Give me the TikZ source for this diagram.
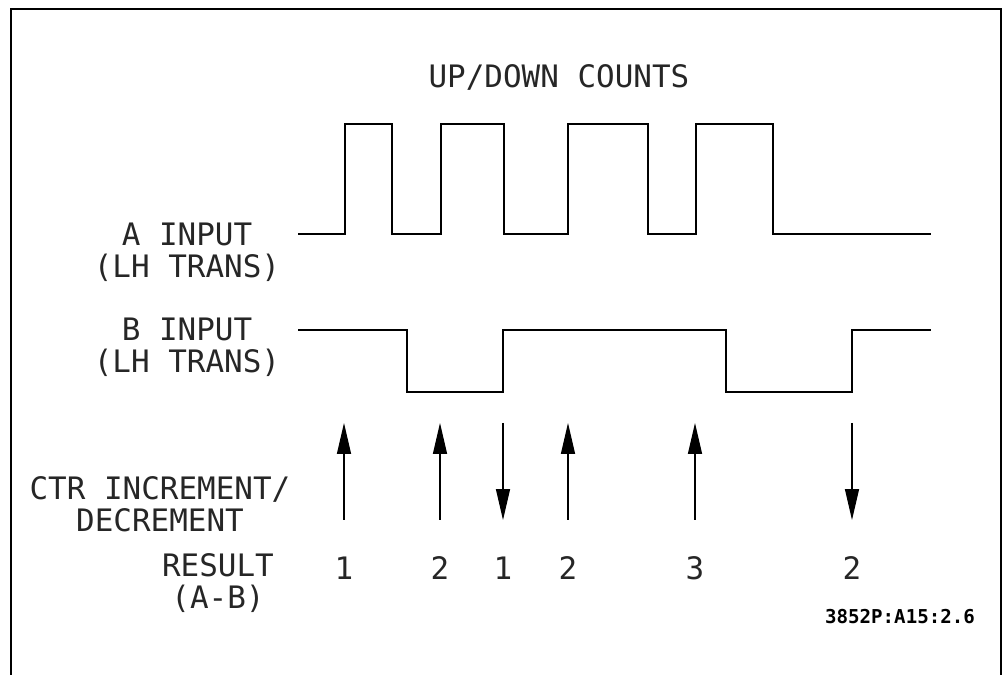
\documentclass[tikz,border=0pt]{standalone}
\usepackage{fontspec}
\usepackage{tikz}
\usetikzlibrary{arrows.meta,positioning}
\newfontfamily\plotfont{DejaVu Sans Mono}

\begin{document}
\begin{tikzpicture}[x=0.025cm,y=-0.025cm,
        lbl/.style={font={\plotfont\fontsize{22}{22.5}\selectfont},align=center,inner sep=0pt,text=black!85},
        wave/.style={line width=0.8pt},
        cnt/.style={-{Triangle[length=22pt,width=10pt]},line width=0.8pt}]
        \useasboundingbox (0,0) rectangle (1002,675);

        % Frame (open at the bottom)
        \draw[line width=1.3pt] (11,675) -- (11,9) -- (1001,9) -- (1001,675);

        % Title
        \node[lbl] (title) at (559,77) {UP/DOWN COUNTS};

        % Signal labels
        \node[lbl] (ain) at (187,252) {A INPUT\\(LH TRANS)};
        \node[lbl] (bin) at (187,347) {B INPUT\\(LH TRANS)};
        \node[lbl] (ctr) at (160,504) {CTR INCREMENT/\\DECREMENT};
        \node[lbl] (res) at (218,583) {RESULT\\(A-B)};

        % A input waveform
        \draw[wave] (298,234) -- (345,234) |- (392,124) |- (441,234) |- (504,124)
            |- (568,234) |- (648,124) |- (696,234) |- (773,124) |- (931,234);

        % B input waveform
        \draw[wave] (298,330) -- (407,330) |- (503,392) |- (726,330) |- (852,392)
            |- (931,330);

        % Counter steps (from -> to) and results
        \foreach \x/\n/\ya/\yb [count=\i] in {344/1/520/423,440/2/520/423,503/1/423/520,
                568/2/520/423,695/3/520/423,852/2/423/520} {
            \node[lbl] (r\i) at (\x,568) {\n};
            \coordinate (s\i) at (\x,\ya);
            \coordinate (e\i) at (\x,\yb);
            \draw[cnt] (s\i) -- (e\i);
        }

        % Figure code
        \node[font={\plotfont\bfseries\fontsize{13.6}{15}\selectfont},inner sep=0pt] (code) at (900,617) {3852P:A15:2.6};
\end{tikzpicture}
\end{document}
